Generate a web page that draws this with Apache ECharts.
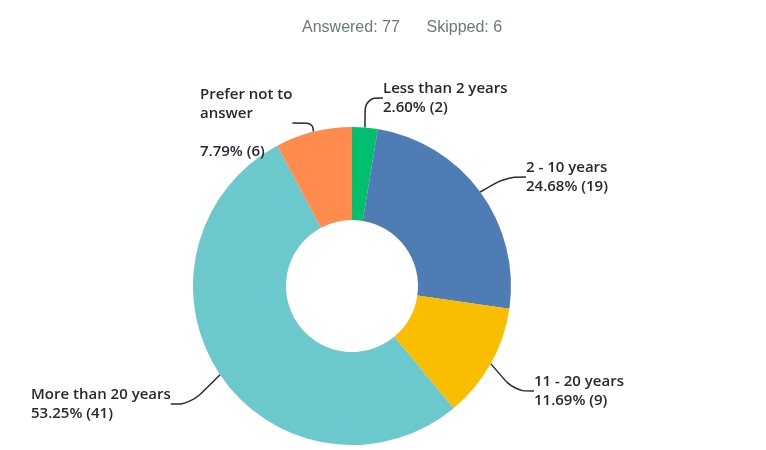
<!DOCTYPE html>
<html>
<head>
<meta charset="utf-8">
<script src="https://cdn.jsdelivr.net/npm/echarts@6/dist/echarts.min.js"></script>
<style>
  html, body { margin: 0; padding: 0; background: #fff; }
  #Chart1 { width: 766px; height: 450px; }
</style>
</head>
<body>
<div id="Chart1"></div>
<script>
const categories = ["Less than 2 years", "2 - 10 years", "11 - 20 years", "More than 20 years", "Prefer not to answer"];
const counts = [2, 19, 9, 41, 6];
const percents = ["2.60%", "24.68%", "11.69%", "53.25%", "7.79%"];
const colors = ["#00bf6f", "#507cb6", "#f9be00", "#6bc8cd", "#ff8b4f"];
const answered = 77;
const skipped = 6;

// where each label sits (left edge, top of first line)
const labelSpots = [
  { x: 383, y: 79 },
  { x: 526, y: 158 },
  { x: 534, y: 372 },
  { x: 31, y: 385 },
  { x: 200, y: 85 }
];

const myChart = echarts.init(document.getElementById("Chart1"));

const option = {
  title: {
    text: "Answered: " + answered + "      Skipped: " + skipped,
    left: 297,
    top: 15,
    textStyle: {
      fontFamily: "Liberation Sans, Arial, sans-serif",
      fontSize: 16,
      fontWeight: "normal",
      color: "#6b787f"
    }
  },
  series: [
    {
      type: "pie",
      center: [352, 286],
      radius: [66, 159],
      startAngle: 90,
      clockwise: true,
      avoidLabelOverlap: false,
      itemStyle: { borderWidth: 0 },
      label: {
        show: true,
        position: "outside",
        fontFamily: "Open Sans, sans-serif",
        fontSize: 15,
        fontWeight: 600,
        color: "#242a30",
        lineHeight: 19,
        formatter: (p) => {
          const name = p.dataIndex === 4 ? "Prefer not to\nanswer\n" : p.name;
          return name + "\n" + percents[p.dataIndex] + " (" + p.value + ")";
        }
      },
      labelLine: {
        show: true,
        smooth: 0.4,
        length: 15,
        length2: 20,
        lineStyle: { color: "#242a30", width: 1.5 }
      },
      labelLayout: (params) => ({
        x: labelSpots[params.dataIndex].x,
        y: labelSpots[params.dataIndex].y,
        align: "left",
        verticalAlign: "top"
      }),
      data: categories.map((c, i) => ({
        name: c,
        value: counts[i],
        itemStyle: { color: colors[i] }
      }))
    }
  ]
};

myChart.setOption(option);
</script>
</body>
</html>
